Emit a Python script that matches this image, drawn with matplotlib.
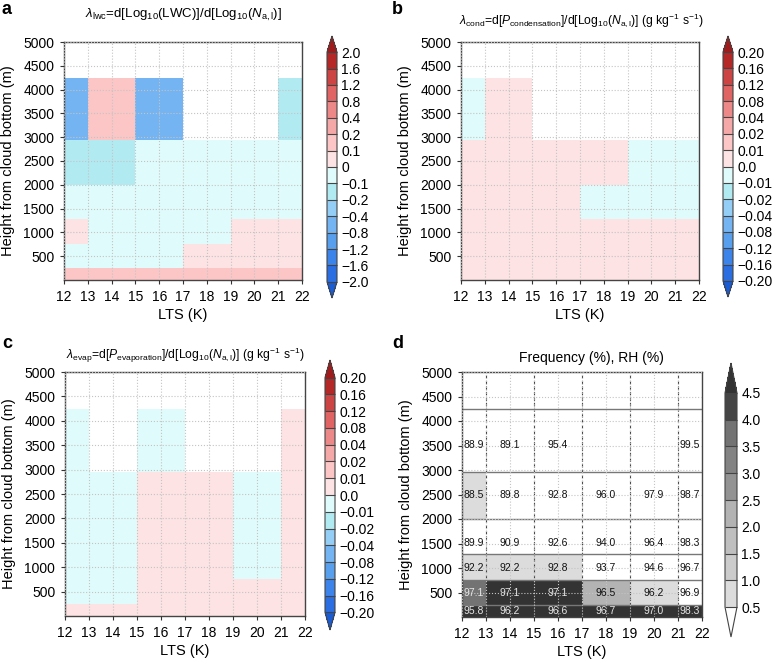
import numpy as np
import matplotlib
matplotlib.use('Agg')
import matplotlib.pyplot as plt
from matplotlib.colors import from_levels_and_colors

plt.rcParams['font.family'] = ['Liberation Sans', 'DejaVu Sans']
plt.rcParams['mathtext.fontset'] = 'custom'
plt.rcParams['mathtext.rm'] = 'Liberation Sans'
plt.rcParams['mathtext.it'] = 'Liberation Sans:italic'
plt.rcParams['mathtext.bf'] = 'Liberation Sans:bold'

nan = np.nan

# bin edges (LTS in K, height in m)
lts_edges = [12, 13, 15, 17, 19, 21, 22]
height_edges = [0, 250, 750, 1290, 2000, 2950, 4250, 5000]
layer_heights = [125, 500, 1000, 1500, 2500, 3500]

# rows: bottom -> top, cols: 12-13, 13-15, 15-17, 17-19, 19-21, 21-22
lam_lwc = [
    [0.15, 0.15, 0.15, 0.15, 0.15, 0.15],
    [-0.05, -0.05, -0.05, 0.05, 0.05, 0.05],
    [0.05, -0.05, -0.05, -0.05, 0.05, 0.05],
    [-0.05, -0.05, -0.05, -0.05, -0.05, -0.05],
    [-0.15, -0.15, -0.05, -0.05, -0.05, -0.05],
    [-0.6, 0.15, -0.6, nan, nan, -0.15],
    [nan, nan, nan, nan, nan, nan],
]
lam_cond = [
    [0.005, 0.005, 0.005, 0.005, 0.005, 0.005],
    [0.005, 0.005, 0.005, 0.005, 0.005, 0.005],
    [0.005, 0.005, 0.005, 0.005, 0.005, 0.005],
    [0.005, 0.005, 0.005, -0.005, -0.005, -0.005],
    [0.005, 0.005, 0.005, 0.005, -0.005, -0.005],
    [-0.005, 0.005, nan, nan, nan, nan],
    [nan, nan, nan, nan, nan, nan],
]
lam_evap = [
    [0.005, 0.005, 0.005, 0.005, 0.005, 0.005],
    [-0.005, -0.005, 0.005, 0.005, 0.005, 0.005],
    [-0.005, -0.005, 0.005, 0.005, -0.005, 0.005],
    [-0.005, -0.005, 0.005, 0.005, -0.005, 0.005],
    [-0.005, -0.005, 0.005, 0.005, -0.005, 0.005],
    [-0.005, nan, -0.005, nan, nan, 0.005],
    [nan, nan, nan, nan, nan, nan],
]
freq = [
    [5.5, 5.0, 4.8, 4.7, 4.9, 4.6],
    [3.7, 4.8, 4.6, 2.2, 0.8, 0.3],
    [0.7, 0.6, 0.7, 0.4, 0.3, 0.2],
    [0.4, 0.4, 0.3, 0.3, 0.2, 0.1],
    [0.6, 0.4, 0.3, 0.2, 0.2, 0.1],
    [0.2, 0.2, 0.1, nan, nan, 0.1],
    [nan, nan, nan, nan, nan, nan],
]
rh = [
    [95.8, 96.2, 96.6, 96.7, 97.0, 98.3],
    [97.1, 97.1, 97.1, 96.5, 96.2, 96.9],
    [92.2, 92.2, 92.8, 93.7, 94.6, 96.7],
    [89.9, 90.9, 92.6, 94.0, 96.4, 98.3],
    [88.5, 89.8, 92.8, 96.0, 97.9, 98.7],
    [88.9, 89.1, 95.4, nan, nan, 99.5],
]

lwc_levels = [-2.0, -1.6, -1.2, -0.8, -0.4, -0.2, -0.1, 0, 0.1, 0.2, 0.4, 0.8, 1.2, 1.6, 2.0]
lwc_labels = ['−2.0', '−1.6', '−1.2', '−0.8', '−0.4', '−0.2', '−0.1', '0',
              '0.1', '0.2', '0.4', '0.8', '1.2', '1.6', '2.0']
p_levels = [-0.20, -0.16, -0.12, -0.08, -0.04, -0.02, -0.01, 0, 0.01, 0.02, 0.04, 0.08, 0.12, 0.16, 0.20]
p_labels = ['−0.20', '−0.16', '−0.12', '−0.08', '−0.04', '−0.02', '−0.01', '0.0',
            '0.01', '0.02', '0.04', '0.08', '0.12', '0.16', '0.20']
freq_levels = [0.5, 1.0, 1.5, 2.0, 2.5, 3.0, 3.5, 4.0, 4.5]
freq_labels = ['0.5', '1.0', '1.5', '2.0', '2.5', '3.0', '3.5', '4.0', '4.5']

div_colors = ['#1a5cd4', '#2a6ee2', '#3d84ea', '#58a0ee', '#74b4f2', '#94cef6', '#b2eaf2',
              '#e0fbfb', '#fde3e3', '#fcc6c6', '#f5a8a8', '#ec8888', '#e06464', '#cc4444',
              '#b42828', '#a01c1c']
gray_colors = ['#ffffff', '#dcdcdc', '#cccccc', '#bfbfbf', '#b3b3b3', '#939393', '#838383',
               '#737373', '#454545', '#333333']

W, H = 773, 659
fig = plt.figure(figsize=(W / 100, H / 100), dpi=100)


def box(l, t, r, b):
    # pixel box -> figure fraction
    return [l / W, 1 - b / H, (r - l) / W, (b - t) / H]


def panel(ax_box, cb_box, data, levels, labels, colors, extendfrac):
    ax = fig.add_axes(box(*ax_box))
    cmap, norm = from_levels_and_colors(levels, colors, extend='both')
    z = np.ma.masked_invalid(np.array(data))
    mesh = ax.pcolormesh(lts_edges, height_edges, z, cmap=cmap, norm=norm)
    ax.set_xlim(12, 22)
    ax.set_ylim(0, 5000)
    ax.set_xticks(range(12, 23))
    ax.set_yticks(range(500, 5001, 500))
    ax.tick_params(direction='out', length=3, width=0.8, labelsize=10, pad=4, color='#333333')
    ax.grid(True, color='#c4c4c4', linestyle=':', linewidth=0.8)
    ax.set_axisbelow(False)
    for s in ax.spines.values():
        s.set_color('#444444')
        s.set_linewidth(1.0)
    ax.set_xlabel('LTS (K)', fontsize=10.5, labelpad=3)
    ax.set_ylabel('Height from cloud bottom (m)', fontsize=10.5, labelpad=6)

    cax = fig.add_axes(box(*cb_box))
    cb = fig.colorbar(mesh, cax=cax, extend='both', extendfrac=extendfrac,
                      drawedges=True, ticks=levels)
    cb.set_ticklabels(labels)
    cb.outline.set_edgecolor('#444444')
    cb.outline.set_linewidth(0.8)
    cb.dividers.set_color('#444444')
    cb.dividers.set_linewidth(0.8)
    cb.ax.tick_params(length=0, labelsize=10, pad=3)
    return ax


def px(x, y):
    return x / W, 1 - y / H


ax_a = panel((64, 42, 302, 280), (327, 36, 337, 298), lam_lwc, lwc_levels, lwc_labels, div_colors, 0.07)
ax_b = panel((461, 42, 699, 280), (723, 36, 733, 297), lam_cond, p_levels, p_labels, div_colors, 0.07)
ax_c = panel((65, 372, 305, 616), (325, 360, 335, 630), lam_evap, p_levels, p_labels, div_colors, 0.075)
ax_d = panel((462, 372, 702, 617), (725, 363, 737, 637), freq, freq_levels, freq_labels, gray_colors, 0.14)

# cell borders and RH numbers in panel d
ax_d.vlines(lts_edges[1:-1], 0, 5000, colors='#444444', linestyles=(0, (3, 2)), linewidth=0.8)
ax_d.hlines(height_edges[1:-1], 12, 22, colors='#777777', linewidth=1.0)
for i, row in enumerate(rh):
    for j, v in enumerate(row):
        if np.isnan(v):
            continue
        xc = 0.5 * (lts_edges[j] + lts_edges[j + 1])
        f = freq[i][j]
        tc = '#e6e6e6' if f >= 3.0 else '#111111'
        ax_d.text(xc, layer_heights[i], f'{v:.1f}', ha='center', va='center',
                  fontsize=7.5, color=tc)

# titles
fig.text(*px(183, 15), r'$\lambda_{\rm lwc}$=d[Log$_{10}$(LWC)]/d[Log$_{10}$($N_{\rm a,l}$)]',
         ha='center', va='center', fontsize=9.5)
fig.text(*px(581, 20), r'$\lambda_{\rm cond}$=d[$P_{\rm condensation}$]/d[Log$_{10}$($N_{\rm a,l}$)] (g kg$^{-1}$ s$^{-1}$)',
         ha='center', va='center', fontsize=8.7)
fig.text(*px(185, 355), r'$\lambda_{\rm evap}$=d[$P_{\rm evaporation}$]/d[Log$_{10}$($N_{\rm a,l}$)] (g kg$^{-1}$ s$^{-1}$)',
         ha='center', va='center', fontsize=8.7)
fig.text(*px(591, 358), 'Frequency (%), RH (%)', ha='center', va='center', fontsize=10)

for letter, (x, y) in zip('abcd', [(2, 10), (392, 10), (2, 343), (392, 343)]):
    fig.text(*px(x, y), letter, ha='left', va='center', fontsize=13, fontweight='bold')

fig.savefig('out.png', dpi=100)
